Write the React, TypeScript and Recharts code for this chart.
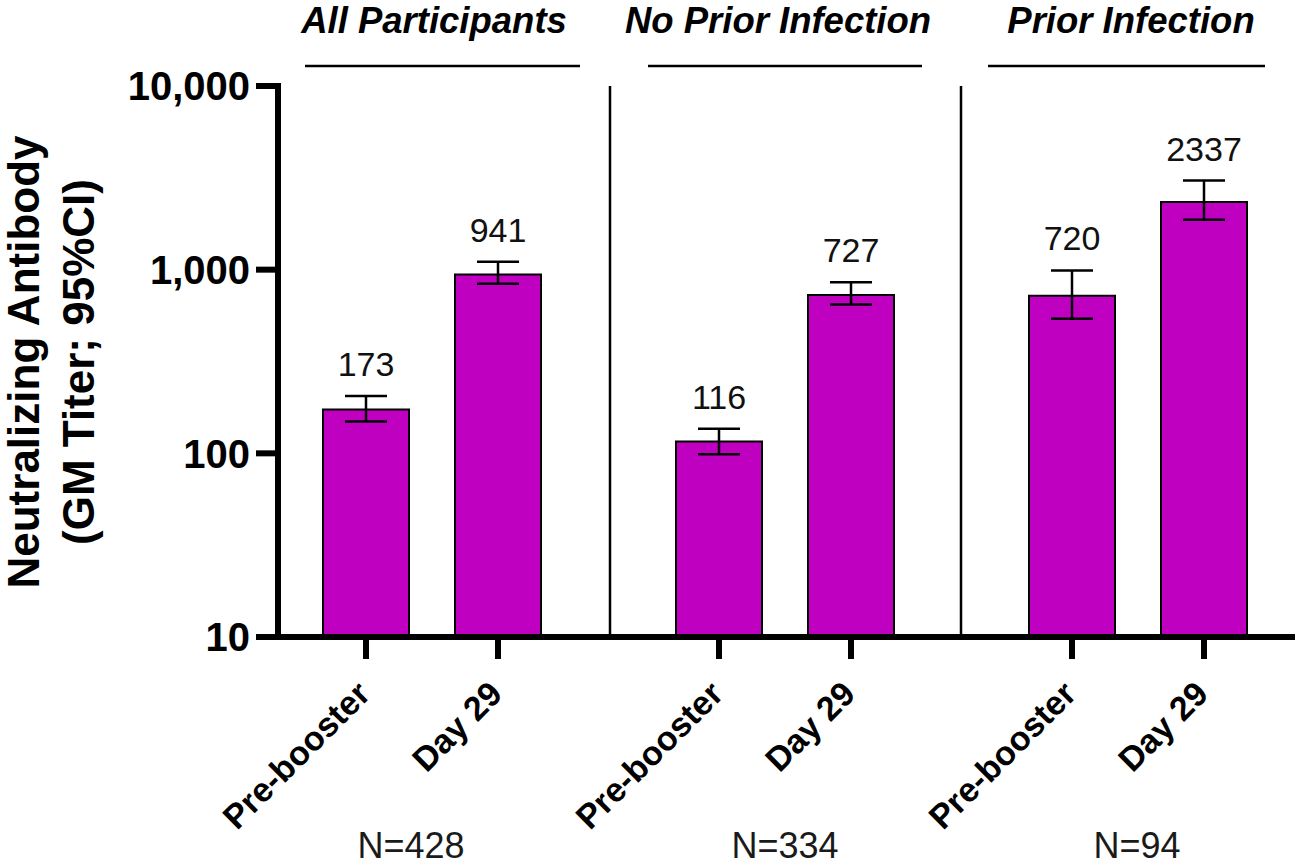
import React from 'react';
import { ComposedChart, Bar, Line, XAxis, YAxis, ErrorBar, LabelList } from 'recharts';

// Neutralizing antibody geometric mean titers with 95% CI, by cohort
const groups = ['All Participants', 'No Prior Infection', 'Prior Infection'];
const timepoints = ['Pre-booster', 'Day 29'];
const participants = [428, 334, 94];

const gmtPreBooster = [173, 116, 720];
const gmtDay29 = [941, 727, 2337];
const ciLowPreBooster = [149, 99, 541];
const ciHighPreBooster = [205, 136, 991];
const ciLowDay29 = [838, 647, 1870];
const ciHighDay29 = [1104, 853, 3055];

const yTicks = [10, 100, 1000, 10000];

const FONT = '"Liberation Sans", Arial, Helvetica, sans-serif';
const MAGENTA = '#C000C0';
const CHART_H = 866;

// one table per cohort panel
const panelRows = groups.map((_, i) => {
  const gmt = [gmtPreBooster[i], gmtDay29[i]];
  const lo = [ciLowPreBooster[i], ciLowDay29[i]];
  const hi = [ciHighPreBooster[i], ciHighDay29[i]];
  return timepoints.map((t, j) => ({
    phase: t,
    gmt: gmt[j],
    hi: hi[j],
    err: [gmt[j] - lo[j], hi[j] - gmt[j]],
  }));
});

// panel placement on the page (page coordinates); axisW leaves room for
// the rotated tick labels that reach left past each divider
const panels = [
  { left: 0, width: 610, axisW: 278, pad: { left: 22, right: 46 }, headX: 434, lineX1: 305, lineX2: 580, nX: 411 },
  { left: 460, width: 501, axisW: 150, pad: { left: 43, right: 44 }, headX: 778, lineX1: 648, lineX2: 922, nX: 785 },
  { left: 811, width: 484, axisW: 150, pad: { left: 45, right: 25 }, headX: 1131, lineX1: 988, lineX2: 1265, nX: 1137 },
];

const PhaseTick = (props: any) => {
  const { x, y, payload } = props;
  const ax = x + 6;
  const ay = y + 35;
  return (
    <text
      x={ax}
      y={ay}
      transform={`rotate(-45 ${ax} ${ay})`}
      textAnchor="end"
      fontSize={34}
      fontWeight="bold"
      fill="#000"
      fontFamily={FONT}
    >
      {payload.value}
    </text>
  );
};

const YTitle = () => (
  <g fontFamily={FONT} fontWeight="bold" fontSize={44} fill="#000">
    <text transform="translate(38.5 362) rotate(-90)" textAnchor="middle">
      Neutralizing Antibody
    </text>
    <text transform="translate(94 362) rotate(-90)" textAnchor="middle">
      (GM Titer; 95%CI)
    </text>
  </g>
);

const Header = ({ title, posX, lx1, lx2 }: { title: string; posX: number; lx1: number; lx2: number }) => (
  <g>
    <text
      x={posX}
      y={33}
      textAnchor="middle"
      fontFamily={FONT}
      fontWeight="bold"
      fontStyle="italic"
      fontSize={36.5}
      fill="#000"
    >
      {title}
    </text>
    <line x1={lx1} x2={lx2} y1={66} y2={66} stroke="#000" strokeWidth={2.5} />
  </g>
);

const CountLabel = ({ n, posX }: { n: number; posX: number }) => (
  <text x={posX} y={858} textAnchor="middle" fontFamily={FONT} fontSize={36} fill="#1a1a1a">
    {`N=${n}`}
  </text>
);

export default function App() {
  return (
    <div
      style={{
        position: 'absolute',
        left: 0,
        top: 0,
        width: 1295,
        height: CHART_H,
        overflow: 'hidden',
        background: '#fff',
        fontFamily: FONT,
      }}
    >
      {panels.map((p, i) => {
        const first = i === 0;
        return (
          <div key={groups[i]} style={{ position: 'absolute', left: p.left, top: 0 }}>
            <ComposedChart
              width={p.width}
              height={CHART_H}
              data={panelRows[i]}
              margin={{ top: 0, right: 0, bottom: 0, left: 0 }}
              barSize={86}
            >
              <XAxis
                xAxisId="head"
                orientation="top"
                dataKey="phase"
                height={86}
                tick={false}
                tickLine={false}
                axisLine={false}
                label={<Header title={groups[i]} posX={p.headX - p.left} lx1={p.lineX1 - p.left} lx2={p.lineX2 - p.left} />}
              />
              <XAxis
                dataKey="phase"
                height={CHART_H - 637}
                padding={p.pad}
                interval={0}
                tickSize={22}
                axisLine={{ stroke: '#000', strokeWidth: 6 }}
                tickLine={{ stroke: '#000', strokeWidth: 6 }}
                tick={<PhaseTick />}
                label={<CountLabel n={participants[i]} posX={p.nX - p.left} />}
              />
              {first ? (
                <YAxis
                  type="number"
                  scale="log"
                  domain={[10, 10000]}
                  allowDataOverflow
                  ticks={yTicks}
                  interval={0}
                  width={p.axisW}
                  tickSize={22}
                  tickMargin={6}
                  tickFormatter={(v: number) => v.toLocaleString('en-US')}
                  tick={{ fontSize: 40, fontWeight: 'bold', fill: '#000', fontFamily: FONT }}
                  axisLine={{ stroke: '#000', strokeWidth: 6, strokeLinecap: 'square' }}
                  tickLine={{ stroke: '#000', strokeWidth: 6 }}
                  label={<YTitle />}
                />
              ) : (
                <YAxis
                  type="number"
                  scale="log"
                  domain={[10, 10000]}
                  allowDataOverflow
                  ticks={yTicks}
                  width={p.axisW}
                  tick={false}
                  tickLine={false}
                  axisLine={{ stroke: '#000', strokeWidth: 2.5 }}
                />
              )}
              <Bar dataKey="gmt" fill={MAGENTA} stroke="#000" strokeWidth={2} isAnimationActive={false}>
                <ErrorBar dataKey="err" direction="y" width={21} stroke="#000" strokeWidth={2.5} />
              </Bar>
              <Line
                dataKey="hi"
                stroke="none"
                dot={false}
                activeDot={false}
                isAnimationActive={false}
                legendType="none"
              >
                <LabelList
                  dataKey="gmt"
                  position="top"
                  offset={20}
                  fontSize={34}
                  fill="#111"
                  fontFamily={FONT}
                />
              </Line>
            </ComposedChart>
          </div>
        );
      })}
    </div>
  );
}
